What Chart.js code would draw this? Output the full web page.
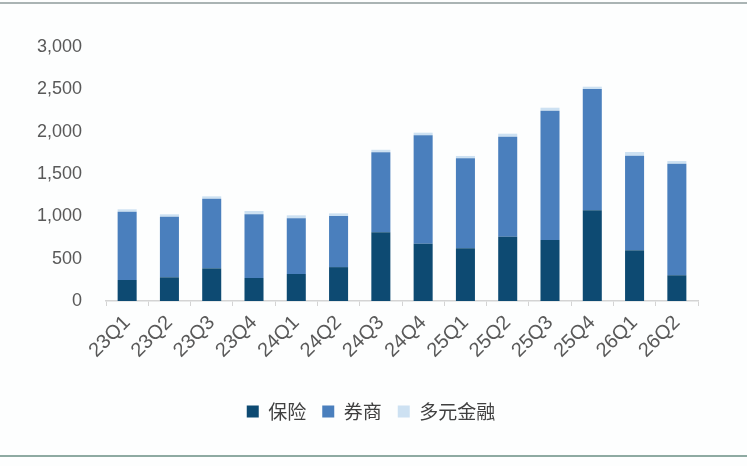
<!DOCTYPE html>
<html>
<head>
<meta charset="utf-8">
<script src="https://cdn.jsdelivr.net/npm/chart.js@4"></script>
<style>
  html, body { margin: 0; padding: 0; background: #fff; }
  #wrap { position: relative; width: 747px; height: 466px; background: #fdfefe; }
  #topline { position: absolute; left: 0; top: 2px; width: 747px; height: 2px; background: #aab4b4; }
  #bottomline { position: absolute; left: 0; top: 455px; width: 747px; height: 2px; background: #8eaaa2; }
</style>
</head>
<body>
<div id="wrap">
  <canvas id="graph" width="747" height="466"></canvas>
  <div id="topline"></div>
  <div id="bottomline"></div>
</div>
<script>
const quarters = ["23Q1","23Q2","23Q3","23Q4","24Q1","24Q2","24Q3","24Q4","25Q1","25Q2","25Q3","25Q4","26Q1","26Q2"];
const insurance = [248, 280, 386, 272, 319, 400, 813, 675, 622, 760, 720, 1071, 599, 304];
const brokers = [806, 715, 822, 752, 657, 604, 944, 1282, 1063, 1180, 1528, 1433, 1117, 1318];
const diversified = [29, 29, 28, 39, 36, 31, 29, 31, 28, 36, 35, 27, 44, 31];
const yTicks = [0, 500, 1000, 1500, 2000, 2500, 3000];

const tickColor = "#595959";

// nudge the legend to the right, the chart area is not centred in the picture
const legendShift = {
    id: "legendShift",
    afterLayout(c) {
        c.legend.left += 22;
        c.legend.right += 22;
    }
};

var context = document.getElementById("graph");
var chart = new Chart(context, {
    type: "bar",
    data: {
        labels: quarters,
        datasets: [{
            label: "保险",
            data: insurance,
            backgroundColor: "#0d4a72"
        },{
            label: "券商",
            data: brokers,
            backgroundColor: "#4a7fbd"
        },{
            label: "多元金融",
            data: diversified,
            backgroundColor: "#cde1f2"
        }]
    },
    plugins: [legendShift],
    options: {
        responsive: false,
        animation: false,
        layout: {padding: {left: 0, right: 49, top: 47, bottom: 35}},
        datasets: {bar: {barPercentage: 0.45, categoryPercentage: 1}},
        plugins: {
            tooltip: {enabled: false},
            legend: {
                position: "bottom",
                labels: {
                    boxWidth: 12,
                    boxHeight: 12,
                    padding: 16,
                    color: "#404040",
                    font: {size: 19, family: "'Noto Sans CJK SC', sans-serif"}
                }
            }
        },
        scales: {
            x: {
                stacked: true,
                grid: {drawOnChartArea: false, drawTicks: true, tickLength: 5, color: "#d4d4d4"},
                border: {display: true, color: "#d4d4d4", width: 1.5},
                ticks: {
                    color: tickColor,
                    minRotation: 45,
                    maxRotation: 45,
                    padding: 5,
                    font: {size: 20, family: "'Liberation Sans', Arial, sans-serif"}
                },
                afterFit: scale => { scale.height = 85; }
            },
            y: {
                stacked: true,
                min: 0,
                max: 3000,
                afterBuildTicks: scale => { scale.ticks = yTicks.map(v => ({value: v})); },
                grid: {display: false, drawTicks: false},
                border: {display: false},
                ticks: {
                    color: tickColor,
                    padding: 24,
                    font: {size: 18, family: "'Liberation Sans', Arial, sans-serif"},
                    callback: v => v.toLocaleString("en-US")
                },
                afterFit: scale => { scale.width = 106; }
            }
        }
    }
});
</script>
</body>
</html>
